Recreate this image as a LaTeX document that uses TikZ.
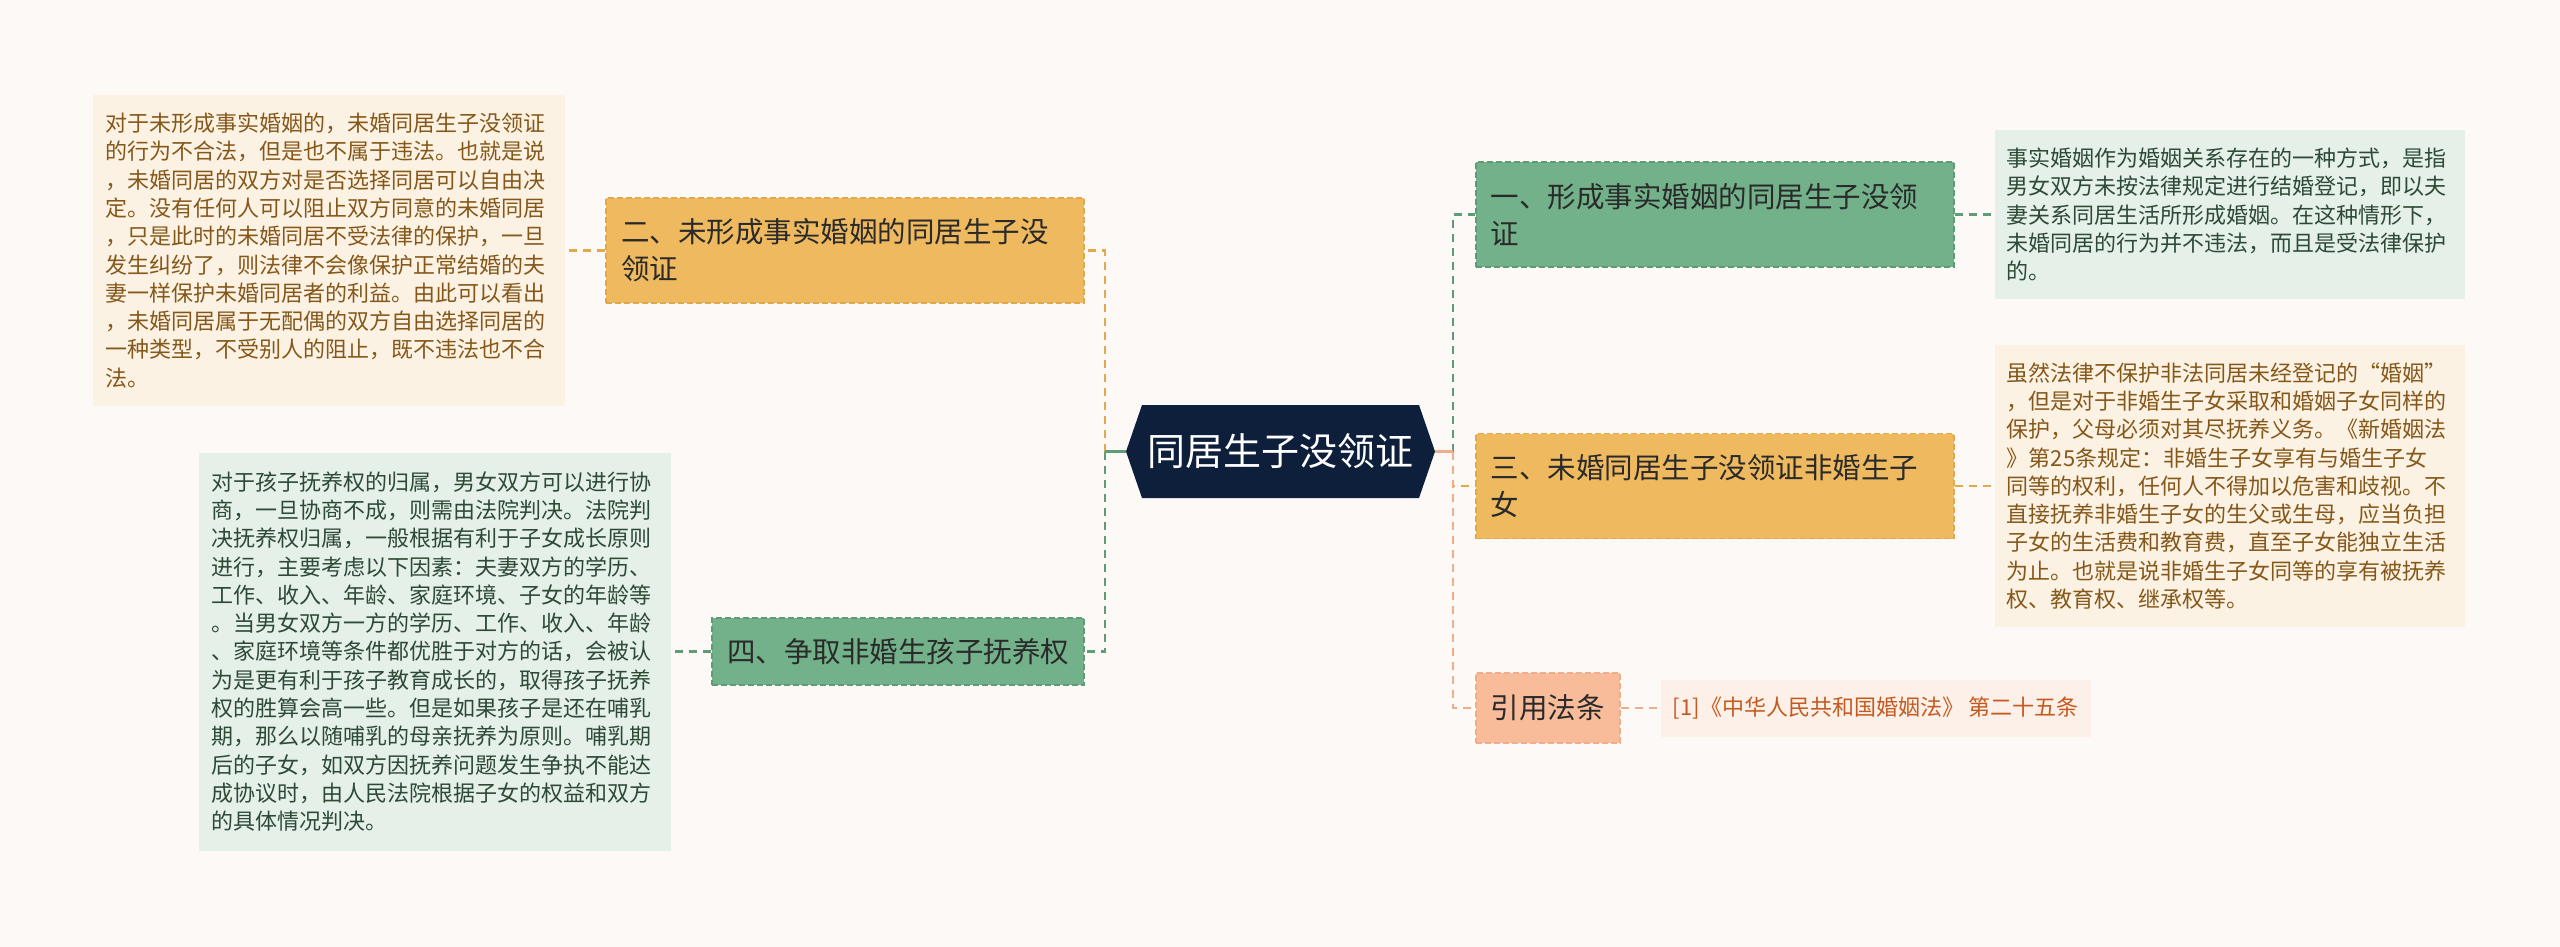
\documentclass[tikz,border=0pt]{standalone}
\usepackage{fontspec}
\setmainfont{Noto Sans CJK SC}
\usepackage{tikz}
\usetikzlibrary{positioning}
\definecolor{mmbg}{HTML}{FDF9F7}
\definecolor{mmnavy}{HTML}{0E1F3B}
\definecolor{mmorange}{HTML}{EFBA5F}
\definecolor{mmorangeln}{HTML}{E2A84E}
\definecolor{mmgreen}{HTML}{72B18A}
\definecolor{mmgreenln}{HTML}{5E9C76}
\definecolor{mmsalmon}{HTML}{F9BC9B}
\definecolor{mmsalmonln}{HTML}{F2AC8A}
\definecolor{mmcream}{HTML}{FCF2E3}
\definecolor{mmbrown}{HTML}{85581A}
\definecolor{mmmint}{HTML}{E4F0E8}
\definecolor{mmpine}{HTML}{2E4A37}
\definecolor{mmpeach}{HTML}{FDF0E8}
\definecolor{mmrust}{HTML}{C45A1F}
\definecolor{mmink}{HTML}{2A2A2A}

\begin{document}
\begin{tikzpicture}[x=1pt, y=-1pt,
  hub/.style={draw=none, fill=mmbg, minimum width=309pt, minimum height=93pt, inner sep=0pt,
              text=white, font=\fontsize{38}{46}\selectfont,
              path picture={\fill[mmnavy] (path picture bounding box.west)
                 -- ([xshift=16pt]path picture bounding box.north west)
                 -- ([xshift=-16pt]path picture bounding box.north east)
                 -- (path picture bounding box.east)
                 -- ([xshift=-16pt]path picture bounding box.south east)
                 -- ([xshift=16pt]path picture bounding box.south west) -- cycle;}},
  topic/.style={dash pattern=on 6pt off 3pt, line width=1.5pt, inner xsep=15pt, inner ysep=0pt,
                align=left, text=mmink, font=\fontsize{28.5}{37}\selectfont, minimum height=#1},
  wide/.style={text width=448pt},
  note/.style={inner xsep=12pt, inner ysep=0pt, align=left, minimum height=#1,
               font=\fontsize{22}{28.3}\selectfont},
  link/.style={line width=2.5pt, dash pattern=on 8pt off 6pt},
  stub/.style={line width=2.5pt}
]
\fill[mmbg] (0,0) rectangle (2560,947);
\useasboundingbox (0,0) rectangle (2560,947);

% Hub
\node[hub] (hub) at (1280.5,451.5) {同居生子没领证};

% Topics
\node[topic=105pt, wide, draw=mmorangeln, fill=mmorange, left=41pt of hub, yshift=201pt] (weifa)
  {二、未形成事实婚姻的同居生子没\\领证};
\node[topic=67pt, draw=mmgreenln, fill=mmgreen, left=41pt of hub, yshift=-200pt] (fuyang)
  {四、争取非婚生孩子抚养权};
\node[topic=105pt, wide, draw=mmgreenln, fill=mmgreen, right=40pt of hub, yshift=237pt] (shishi)
  {一、形成事实婚姻的同居生子没领\\证};
\node[topic=105pt, wide, draw=mmorangeln, fill=mmorange, right=40pt of hub, yshift=-34.5pt] (feihun)
  {三、未婚同居生子没领证非婚生子\\女};
\node[topic=70pt, draw=mmsalmonln, fill=mmsalmon, right=40pt of hub, yshift=-256.5pt] (yinyong)
  {引用法条};

% Notes
\node[note=311pt, text width=448pt, fill=mmcream, text=mmbrown, left=40pt of weifa] (weifatxt)
  {对于未形成事实婚姻的，未婚同居生子没领证\\
   的行为不合法，但是也不属于违法。也就是说\\
   ，未婚同居的双方对是否选择同居可以自由决\\
   定。没有任何人可以阻止双方同意的未婚同居\\
   ，只是此时的未婚同居不受法律的保护，一旦\\
   发生纠纷了，则法律不会像保护正常结婚的夫\\
   妻一样保护未婚同居者的利益。由此可以看出\\
   ，未婚同居属于无配偶的双方自由选择同居的\\
   一种类型，不受别人的阻止，既不违法也不合\\
   法。};
\node[note=398pt, text width=448pt, fill=mmmint, text=mmpine, left=40pt of fuyang] (fuyangtxt)
  {对于孩子抚养权的归属，男女双方可以进行协\\
   商，一旦协商不成，则需由法院判决。法院判\\
   决抚养权归属，一般根据有利于子女成长原则\\
   进行，主要考虑以下因素：夫妻双方的学历、\\
   工作、收入、年龄、家庭环境、子女的年龄等\\
   。当男女双方一方的学历、工作、收入、年龄\\
   、家庭环境等条件都优胜于对方的话，会被认\\
   为是更有利于孩子教育成长的，取得孩子抚养\\
   权的胜算会高一些。但是如果孩子是还在哺乳\\
   期，那么以随哺乳的母亲抚养为原则。哺乳期\\
   后的子女，如双方因抚养问题发生争执不能达\\
   成协议时，由人民法院根据子女的权益和双方\\
   的具体情况判决。};
\node[note=168pt, text width=446pt, fill=mmmint, text=mmpine, right=40pt of shishi] (shishitxt)
  {事实婚姻作为婚姻关系存在的一种方式，是指\\
   男女双方未按法律规定进行结婚登记，即以夫\\
   妻关系同居生活所形成婚姻。在这种情形下，\\
   未婚同居的行为并不违法，而且是受法律保护\\
   的。};
\node[note=282pt, text width=446pt, fill=mmcream, text=mmbrown, right=40pt of feihun] (feihuntxt)
  {虽然法律不保护非法同居未经登记的“婚姻”\\
   ，但是对于非婚生子女采取和婚姻子女同样的\\
   保护，父母必须对其尽抚养义务。《新婚姻法\\
   》第25条规定：非婚生子女享有与婚生子女\\
   同等的权利，任何人不得加以危害和歧视。不\\
   直接抚养非婚生子女的生父或生母，应当负担\\
   子女的生活费和教育费，直至子女能独立生活\\
   为止。也就是说非婚生子女同等的享有被抚养\\
   权、教育权、继承权等。};
\node[note=57pt, fill=mmpeach, text=mmrust, right=40pt of yinyong] (yinyongtxt)
  {[1]《中华人民共和国婚姻法》 第二十五条};

% Links
\coordinate (ltrunk) at ([xshift=-21pt]hub.west);
\coordinate (rtrunk) at ([xshift=18pt]hub.east);
\draw[stub, mmorangeln] (hub.west) -- (ltrunk);
\draw[link, mmorangeln] (ltrunk) |- (weifa.east);
\draw[stub, mmgreenln] (hub.west) -- (ltrunk);
\draw[link, mmgreenln] (ltrunk) |- (fuyang.east);
\draw[stub, mmgreenln] (hub.east) -- (rtrunk);
\draw[link, mmgreenln] (rtrunk) |- (shishi.west);
\draw[stub, mmorangeln] (hub.east) -- (rtrunk);
\draw[link, mmorangeln] (rtrunk) |- (feihun.west);
\draw[stub, mmsalmonln] (hub.east) -- (rtrunk);
\draw[link, mmsalmonln] (rtrunk) |- (yinyong.west);

\draw[link, mmorangeln] (weifa.west) -- (weifatxt.east);
\draw[link, mmgreenln] (fuyang.west) -- (fuyangtxt.east);
\draw[link, mmgreenln] (shishi.east) -- (shishitxt.west);
\draw[link, mmorangeln] (feihun.east) -- (feihuntxt.west);
\draw[link, mmsalmonln] (yinyong.east) -- (yinyongtxt.west);
\end{tikzpicture}
\end{document}
